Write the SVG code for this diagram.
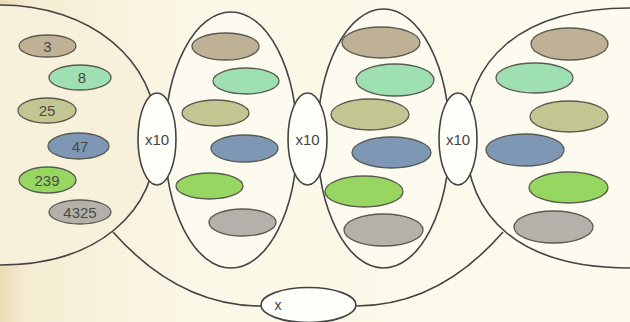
<svg xmlns="http://www.w3.org/2000/svg" width="630" height="322" viewBox="0 0 630 322">
<defs>
<linearGradient id="bg" x1="0" y1="0" x2="1" y2="0">
<stop offset="0" stop-color="#e9dbb4"/>
<stop offset="0.04" stop-color="#f5ecd2"/>
<stop offset="0.3" stop-color="#fbf7e6"/>
<stop offset="1" stop-color="#fdfbee"/>
</linearGradient>
</defs>
<style>
.line{fill:none;stroke:#444;stroke-width:1.6}
.shape{fill:#fdfbf0;stroke:#444;stroke-width:1.6}
.op{fill:#fffef8;stroke:#444;stroke-width:1.6}
.b{stroke:#5a5a50;stroke-width:1.3}
.tan{fill:#beb196}
.mint{fill:#9fe0b3}
.olive{fill:#c4c691}
.blue{fill:#7e97b5}
.green{fill:#97d660}
.gray{fill:#b3b1a9}
.num{font-family:"Liberation Sans",Arial,sans-serif;font-size:15px;fill:#4a4a44;text-anchor:middle}
.opt{font-family:"Liberation Sans",Arial,sans-serif;font-size:15px;fill:#444;text-anchor:middle}
</style>
<rect width="630" height="322" fill="url(#bg)"/>

<g id="connectors">
<path class="line" d="M113,232 C160,285 210,306 261,306"/>
<path class="line" d="M356,306 C407,306 457,285 503,232"/>
</g>

<g id="set-left">
<path class="shape" fill="#f7f0d9" style="fill:#f7f0da" d="M-10,5 L0,5 C90,5 157,60 157,135 C157,215 95,265 0,265 L-10,265 Z"/>
<ellipse class="b tan" cx="47.5" cy="46" rx="28.5" ry="11"/>
<text class="num" x="47.5" y="51.5">3</text>
<ellipse class="b mint" cx="80" cy="77.5" rx="31" ry="12.5"/>
<text class="num" x="82" y="83">8</text>
<ellipse class="b olive" cx="47" cy="110.5" rx="29" ry="12.5"/>
<text class="num" x="47" y="116">25</text>
<ellipse class="b blue" cx="78.5" cy="146" rx="30.5" ry="13"/>
<text class="num" x="80" y="151.5">47</text>
<ellipse class="b green" cx="47.5" cy="180" rx="28.5" ry="13"/>
<text class="num" x="47" y="185.5">239</text>
<ellipse class="b gray" cx="80" cy="212" rx="31" ry="12"/>
<text class="num" x="80" y="217.5">4325</text>
</g>

<g id="set-right">
<path class="shape" d="M640,8 L630,8 C520,8 466,60 466,138 C466,218 520,268 630,268 L640,268 Z"/>
<ellipse class="b tan" cx="569.5" cy="44" rx="38.5" ry="16"/>
<ellipse class="b mint" cx="534.5" cy="78" rx="38.5" ry="15"/>
<ellipse class="b olive" cx="569" cy="116.5" rx="39" ry="15.5"/>
<ellipse class="b blue" cx="525" cy="150" rx="39" ry="16"/>
<ellipse class="b green" cx="568.5" cy="187.5" rx="39.5" ry="15.5"/>
<ellipse class="b gray" cx="553.5" cy="227" rx="39.5" ry="16"/>
</g>

<g id="set-2">
<ellipse class="shape" cx="231" cy="140" rx="66" ry="128"/>
<ellipse class="b tan" cx="225.5" cy="46.5" rx="33.5" ry="13.5"/>
<ellipse class="b mint" cx="246" cy="81" rx="33" ry="13"/>
<ellipse class="b olive" cx="215.5" cy="113" rx="33.5" ry="13"/>
<ellipse class="b blue" cx="244.5" cy="148.5" rx="33.5" ry="13.5"/>
<ellipse class="b green" cx="209.5" cy="186" rx="33.5" ry="13"/>
<ellipse class="b gray" cx="242.5" cy="222.5" rx="33.5" ry="13.5"/>
</g>

<g id="set-3">
<ellipse class="shape" cx="383.5" cy="138.5" rx="66" ry="129.5"/>
<ellipse class="b tan" cx="381" cy="42.5" rx="39" ry="15.5"/>
<ellipse class="b mint" cx="395" cy="80" rx="39" ry="16"/>
<ellipse class="b olive" cx="370" cy="114.5" rx="39" ry="15.5"/>
<ellipse class="b blue" cx="391.5" cy="152.5" rx="39.5" ry="15.5"/>
<ellipse class="b green" cx="364" cy="191.5" rx="39" ry="15.5"/>
<ellipse class="b gray" cx="383.5" cy="230" rx="39.5" ry="16"/>
</g>

<g id="op-1">
<ellipse class="op" cx="157" cy="139" rx="19" ry="46"/>
<text class="opt" x="157" y="144.5">x10</text>
</g>
<g id="op-2">
<ellipse class="op" cx="307.5" cy="139" rx="19.5" ry="46"/>
<text class="opt" x="307.5" y="144.5">x10</text>
</g>
<g id="op-3">
<ellipse class="op" cx="458" cy="139" rx="19" ry="46"/>
<text class="opt" x="458" y="144.5">x10</text>
</g>
<g id="op-x">
<ellipse class="op" cx="308.5" cy="305" rx="47.5" ry="17.5"/>
<text class="opt" x="278" y="310" style="font-size:14px">x</text>
</g>
</svg>
